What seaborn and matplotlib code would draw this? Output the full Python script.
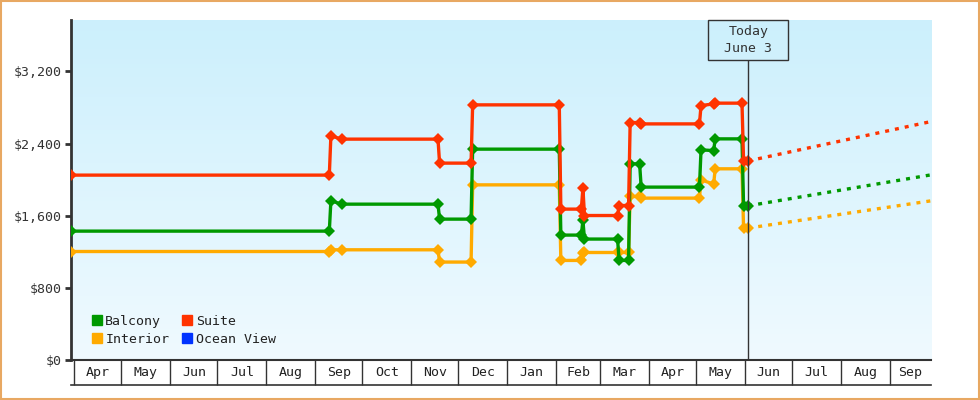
import matplotlib
matplotlib.use('Agg')
import matplotlib.pyplot as plt
import matplotlib.dates as mdates
from matplotlib.lines import Line2D
from matplotlib.patches import Rectangle
import seaborn as sns
import numpy as np
import pandas as pd

# fechas de cada observacion de precio (mismas para todas las cabinas)
fechas = ['2014-03-30', '2014-09-10', '2014-09-11', '2014-09-18', '2014-11-18', '2014-11-19',
          '2014-12-09', '2014-12-10', '2015-02-03', '2015-02-04', '2015-02-17', '2015-02-18',
          '2015-02-19', '2015-03-12', '2015-03-13', '2015-03-19', '2015-03-20', '2015-03-26',
          '2015-03-27', '2015-05-03', '2015-05-04', '2015-05-12', '2015-05-13', '2015-05-30',
          '2015-05-31', '2015-06-03']
suite = [2050, 2050, 2485, 2449, 2449, 2183, 2183, 2829, 2829, 1673, 1673, 1906, 1602,
         1602, 1713, 1713, 2633, 2633, 2618, 2618, 2821, 2840, 2848, 2848, 2208, 2208]
balcony = [1429, 1429, 1765, 1728, 1728, 1562, 1562, 2338, 2338, 1385, 1385, 1547, 1341,
           1341, 1104, 1104, 2175, 2175, 1917, 1917, 2330, 2322, 2452, 2452, 1710, 1710]
interior = [1203, 1203, 1222, 1222, 1222, 1086, 1086, 1942, 1942, 1104, 1104, 1186, 1192,
            1192, 1192, 1192, 1813, 1813, 1795, 1795, 1998, 1950, 2120, 2120, 1463, 1463]
ocean_view = []

# pronostico desde hoy hasta el final del eje
hoy = '2015-06-03'
fin = '2015-09-27'
inicio = '2014-03-30'
pronostico = {'Suite': 2644, 'Balcony': 2053, 'Interior': 1765}

yticks = [0, 800, 1600, 2400, 3200]
ytick_labels = ['$0', '$800', '$1,600', '$2,400', '$3,200']

colores = {'Balcony': '#009900', 'Suite': '#ff3300', 'Interior': '#ffaa00', 'Ocean View': '#0033ff'}
orden = ['Interior', 'Balcony', 'Suite']

filas = []
for nombre, valores in [('Suite', suite), ('Balcony', balcony), ('Interior', interior)]:
    for f, v in zip(fechas, valores):
        filas.append({'fecha': pd.Timestamp(f), 'precio': v, 'cabina': nombre})
df = pd.DataFrame(filas)

plt.rcParams['font.family'] = ['DejaVu Sans Mono']
fig = plt.figure(figsize=(9.8, 4), dpi=100)
ax = fig.add_axes([71 / 980, 40 / 400, 860 / 980, 340 / 400])

# fondo degradado
grad = np.linspace(0, 1, 256).reshape(-1, 1)
arriba = np.array([0.80, 0.94, 0.99])
abajo = np.array([0.94, 0.98, 1.0])
img = arriba + (abajo - arriba) * grad[:, :, None]
ax.imshow(img, extent=[0, 1, 0, 1], transform=ax.transAxes, aspect='auto', zorder=0)

sns.lineplot(data=df, x='fecha', y='precio', hue='cabina', hue_order=orden, palette=colores,
             estimator=None, sort=False, marker='D', markersize=6, markeredgewidth=0,
             linewidth=2.4, legend=False, ax=ax, zorder=3)

# lineas punteadas de pronostico
series = {'Suite': suite, 'Balcony': balcony, 'Interior': interior}
for nombre in orden:
    valores = series[nombre]
    ax.plot([pd.Timestamp(hoy), pd.Timestamp(fin)], [valores[-1], pronostico[nombre]],
            color=colores[nombre], linewidth=2.4, linestyle=(0, (1.2, 1.8)), zorder=3)

x0 = mdates.date2num(pd.Timestamp(inicio))
x1 = mdates.date2num(pd.Timestamp(fin))
ax.set_xlim(x0, x1)
ax.set_ylim(0, 3770)

# eje y
ax.set_yticks(yticks)
ax.set_yticklabels(ytick_labels, fontsize=9.5, color='#333333')
ax.tick_params(axis='y', length=4.5, width=2, color='#333333', pad=2)
ax.set_xticks([])
ax.set_xlabel('')
ax.set_ylabel('')
for lado in ['top', 'right']:
    ax.spines[lado].set_visible(False)
ax.spines['left'].set_color('#333333')
ax.spines['left'].set_linewidth(2)
ax.spines['bottom'].set_color('#333333')
ax.spines['bottom'].set_linewidth(1.5)

# franja de meses bajo el eje
trans = ax.get_xaxis_transform()
alto = 25 / 340
meses = pd.date_range('2014-04-01', '2015-09-01', freq='MS')
ax.plot([x0, x1], [-alto, -alto], transform=trans, color='#333333', linewidth=1.2, clip_on=False)
ax.vlines(meses, -alto, 0, transform=trans, color='#333333', linewidth=1, clip_on=False)
bordes = [x0] + [mdates.date2num(m) for m in meses] + [x1]
for i, m in enumerate(meses):
    a = mdates.date2num(m)
    b = min(bordes[i + 2], x1)
    ax.text((a + b) / 2, -alto / 2, m.strftime('%b'), transform=trans, ha='center', va='center',
            fontsize=9.5, color='#222222')

# marca de hoy
xh = mdates.date2num(pd.Timestamp(hoy))
caja = 40 / 340
ax.vlines(xh, 0, 1 - caja, transform=trans, color='#333333', linewidth=1, zorder=4)
ancho = 80 / (860 / (x1 - x0))
ax.add_patch(Rectangle((xh - ancho / 2, 1 - caja), ancho, caja, transform=trans,
                       facecolor='none', edgecolor='#333333', linewidth=1, clip_on=False, zorder=4))
ax.text(xh, 1 - caja / 2, 'Today\nJune 3', transform=trans, ha='center', va='center',
        fontsize=9.5, color='#333333', linespacing=1.3)

# leyenda
manijas = [Line2D([], [], marker='s', linestyle='none', markersize=7.5, color=colores[n], label=n)
           for n in ['Balcony', 'Interior', 'Suite', 'Ocean View']]
ax.legend(handles=manijas, ncol=2, loc='lower left', bbox_to_anchor=(0.01, 0.006), frameon=False,
          fontsize=9.5, handlelength=0.8, handletextpad=0.25, columnspacing=0.95, labelspacing=0.4,
          labelcolor='#222222')

# borde naranja de la figura
fig.patches.append(Rectangle((0.001, 0.002), 0.998, 0.996, transform=fig.transFigure,
                             facecolor='none', edgecolor='#e8a862', linewidth=1.5))

fig.savefig('out.png', dpi=100)
